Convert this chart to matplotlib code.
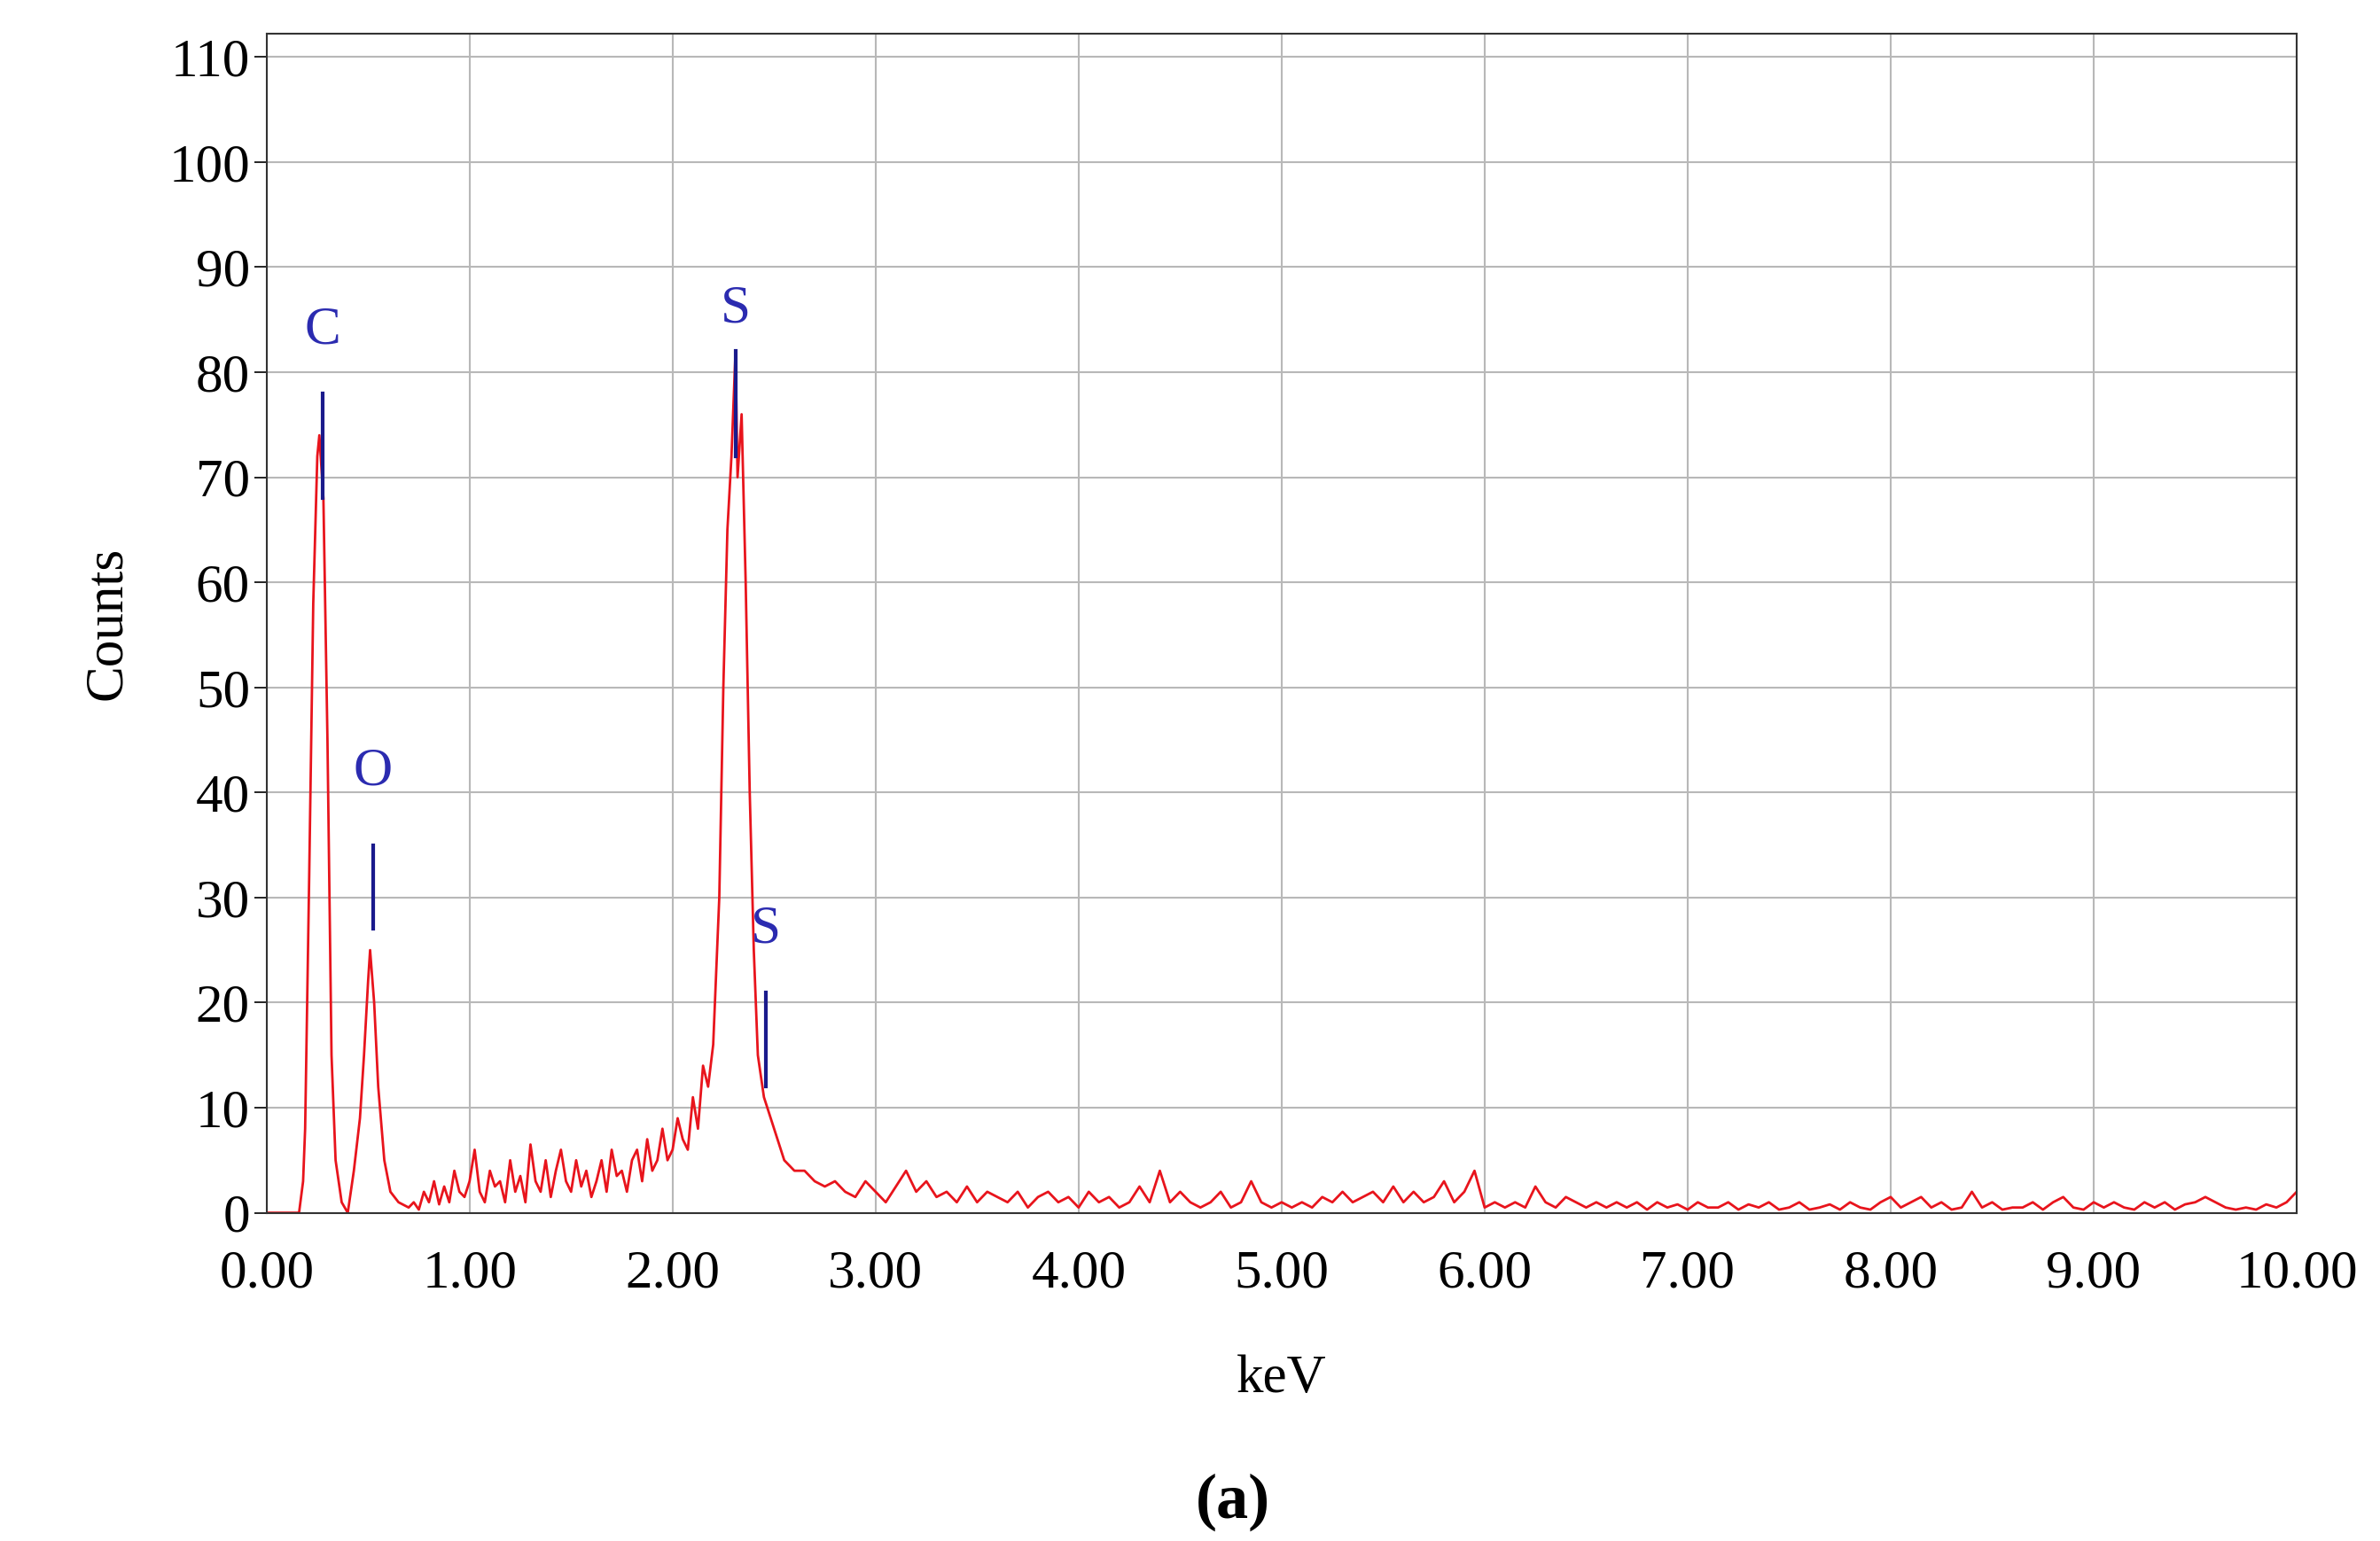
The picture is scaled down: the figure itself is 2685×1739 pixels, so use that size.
import numpy as np
import matplotlib
matplotlib.use("Agg")
import matplotlib.pyplot as plt

plt.rcParams['font.family'] = ['Liberation Serif', 'DejaVu Serif']

# Spectrum data
e_start = [0.00, 0.10, 0.16, 0.18, 0.19, 0.21, 0.23, 0.25, 0.26, 0.28, 0.30, 0.32, 0.34, 0.37, 0.40,
           0.43, 0.46, 0.48, 0.50, 0.51, 0.53, 0.55, 0.58, 0.61, 0.65]
c_start = [0, 0, 0, 3, 8, 32, 58, 72, 74, 68, 45, 15, 5, 1, 0,
           4, 9, 15, 22, 25, 20, 12, 5, 2, 1]
bg1 = [0.5,1,0.3,2,1,3,0.8,2.5,1,4,
       2,1.5,3,6,2,1,4,2.5,3,1,
       5,2,3.5,1,6.5,3,2,5,1.5,4,
       6,3,2,5,2.5,4,1.5,3,5,2,
       6,3.5,4,2,5,6,3,7,4,5,
       8,5,6,9,7,6,11,8,14,12]
e_peak = [2.20, 2.23, 2.25, 2.27, 2.29, 2.31, 2.32, 2.34, 2.36, 2.38, 2.40, 2.42, 2.45, 2.50, 2.55, 2.60]
c_peak = [16, 30, 50, 65, 72, 82, 70, 76, 60, 40, 25, 15, 11, 8, 5, 4]
bg2 = [4,3,2.5,3,2,1.5,3,2,1,2.5,
       4,2,3,1.5,2,1,2.5,1,2,1.5,
       1,2,0.5,1.5,2,1,1.5,0.5,2,1,
       1.5,0.5,1,2.5,1,4,1,2,1,0.5,
       1,2,0.5,1,3,1,0.5,1,0.5,1,
       0.5,1.5,1,2,1,1.5,2,1,2.5,1,
       2,1,1.5,3,1,2,4,0.5,1,0.5,
       1,0.5,2.5,1,0.5,1.5,1,0.5,1,0.5,
       1,0.5,1,0.3,1,0.5,0.8,0.3,1,0.5,
       0.5,1,0.3,0.8,0.5,1,0.3,0.5,1,0.3,
       0.5,0.8,0.3,1,0.5,0.3,1,1.5,0.5,1,
       1.5,0.5,1,0.3,0.5,2,0.5,1,0.3,0.5,
       0.5,1,0.3,1,1.5,0.5,0.3,1,0.5,1,
       0.5,0.3,1,0.5,1,0.3,0.8,1,1.5,1,
       0.5,0.3,0.5,0.3,0.8,0.5,1,2]
e_bg1 = np.linspace(0.70, 2.175, len(bg1))
e_bg2 = np.linspace(2.65, 10.0, len(bg2))

energy = np.concatenate([e_start, e_bg1, e_peak, e_bg2])
counts = np.concatenate([c_start, bg1, c_peak, bg2])

elements = ['C', 'O', 'S', 'S']
el_energy = [0.277, 0.525, 2.31, 2.46]
el_line = [(68, 78), (27, 35), (72, 82), (12, 21)]
el_text_y = [84, 42, 86, 27]

xticks = np.arange(0, 10.01, 1.0)
yticks = np.arange(0, 111, 10)

fig = plt.figure(figsize=(26.85, 17.39), dpi=100)
ax = fig.add_axes([0.112, 0.213, 0.853, 0.765])
ax.plot(energy, counts, color='#e8141c', lw=2.0)
for name, x, (y0, y1), ty in zip(elements, el_energy, el_line, el_text_y):
    ax.plot([x, x], [y0, y1], color='#1a1a8c', lw=3)
    ax.text(x, ty, name, color='#2b2bb0', fontsize=44, ha='center', va='center')

ax.set_xlim(0, 10)
ax.set_ylim(0, 112.2)
ax.set_xticks(xticks)
ax.set_xticklabels([f"{v:.2f}" for v in xticks])
ax.set_yticks(yticks)
ax.tick_params(labelsize=44, length=10, width=1.2, direction='out')
ax.tick_params(axis='x', length=0, pad=30)
ax.grid(True, color='#b8b8b8', lw=1.5)
for s in ax.spines.values():
    s.set_color('#333333'); s.set_linewidth(1.5)
ax.set_xlabel('keV', fontsize=44, labelpad=45)
ax.set_ylabel('Counts', fontsize=44, labelpad=30)
fig.text(0.518, 0.025, '(a)', fontsize=52, fontweight='bold', ha='center', va='center')
fig.savefig('out.png', dpi=100)
